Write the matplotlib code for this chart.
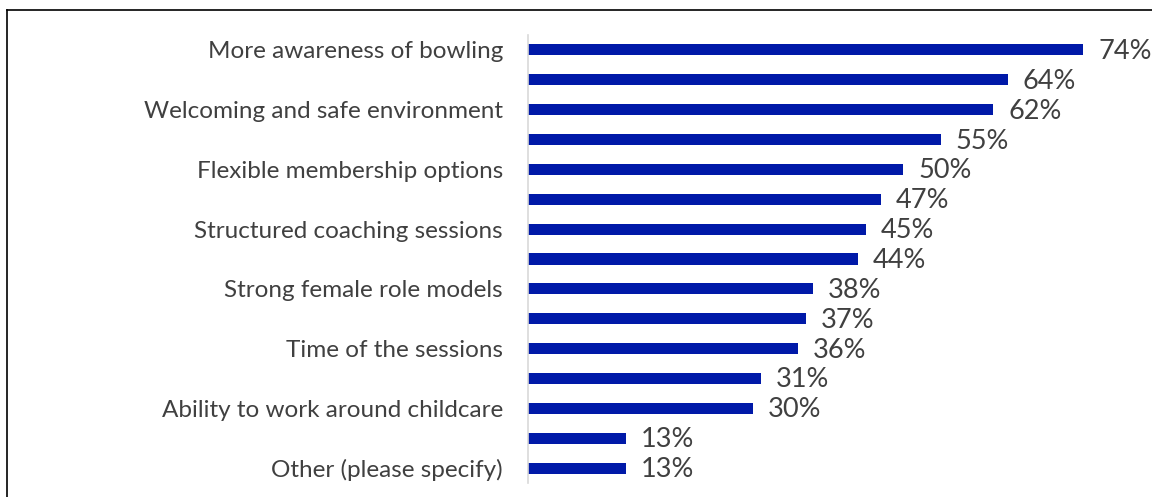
import matplotlib.pyplot as plt
from matplotlib.lines import Line2D

labels = ["More awareness of bowling", "", "Welcoming and safe environment", "",
          "Flexible membership options", "", "Structured coaching sessions", "",
          "Strong female role models", "", "Time of the sessions", "",
          "Ability to work around childcare", "", "Other (please specify)"]
values = [74, 64, 62, 55, 50, 47, 45, 44, 38, 37, 36, 31, 30, 13, 13]

plt.rcParams['font.family'] = ['Lato', 'DejaVu Sans']
text_col = '#404040'
bar_col = '#0019A8'

fig = plt.figure(figsize=(11.52, 4.97), dpi=100)
ax = fig.add_axes([528 / 1152, 1 - 483 / 497, 600 / 1152, 448 / 497])

y = list(range(len(values)))
ax.barh(y, values, height=0.37, color=bar_col)
for yi, v in zip(y, values):
    ax.text(v + 2, yi + 0.05, f"{v}%", va='center', ha='left', fontsize=19.5, color=text_col)

ax.set_yticks(y)
ax.set_yticklabels(labels, fontsize=17.5, color=text_col)
ax.tick_params(axis='y', length=0, pad=18)
ax.set_xticks([])
ax.set_xlim(0, 80)
ax.set_ylim(len(values) - 0.5, -0.5)
for s in ['top', 'right', 'bottom']:
    ax.spines[s].set_visible(False)
ax.spines['left'].set_color('#d9d9d9')
ax.spines['left'].set_linewidth(1.2)

# outer frame (top and left edges visible)
fig.add_artist(Line2D([7 / 1152, 1.0], [1 - 10 / 497, 1 - 10 / 497], color='black', lw=1.2, transform=fig.transFigure))
fig.add_artist(Line2D([7 / 1152, 7 / 1152], [0.0, 1 - 10 / 497], color='black', lw=1.2, transform=fig.transFigure))

fig.savefig('out.png', dpi=100)
